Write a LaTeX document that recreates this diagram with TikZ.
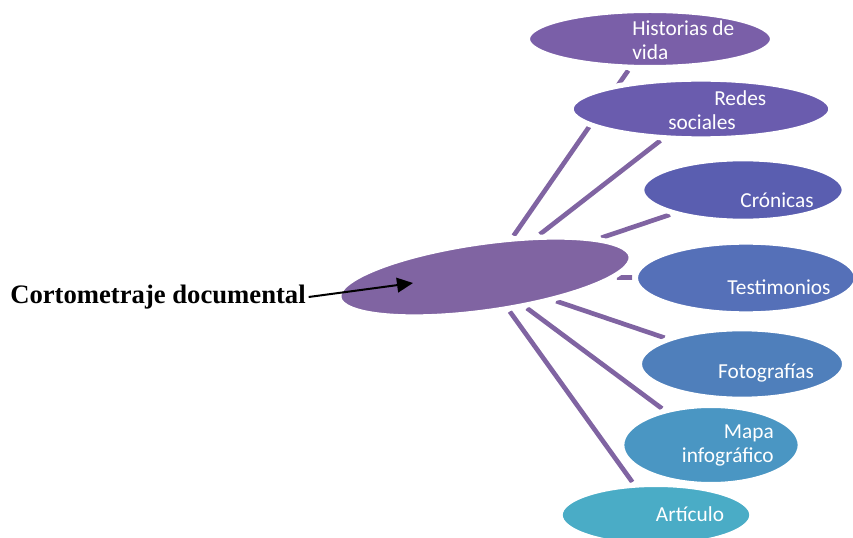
\documentclass[tikz,border=0pt]{standalone}
\usepackage{fontspec}
\setmainfont{Liberation Serif}
\newfontfamily\calibri{Carlito}
\usetikzlibrary{shapes.geometric,arrows.meta,backgrounds}

\definecolor{violeta}{RGB}{128,100,162}
\definecolor{satA}{RGB}{122,95,168}
\definecolor{satB}{RGB}{106,92,174}
\definecolor{satC}{RGB}{90,94,176}
\definecolor{satD}{RGB}{85,112,184}
\definecolor{satE}{RGB}{79,127,187}
\definecolor{satF}{RGB}{74,150,195}
\definecolor{satG}{RGB}{74,172,198}

\tikzset{
  burbuja/.style={ellipse, draw=white, line width=4pt, inner sep=0pt},
  rotulo/.style={font=\calibri\fontsize{16}{18}\selectfont, text=white, inner sep=0pt},
  radio/.style={draw=violeta, line width=3.5pt, shorten <=0.5pt, shorten >=0.5pt}
}

\begin{document}
\begin{tikzpicture}[x=0.75pt,y=0.75pt,yscale=-1,xscale=1]
\useasboundingbox (0,0) rectangle (853,538);

%Central ellipse
\node [burbuja, fill=violeta, minimum width=221.5pt, minimum height=52pt, rotate=8] (centro) at (485,277) {};

%Satellite ellipses
\node [burbuja, fill=satA, minimum width=184pt, minimum height=43pt] (historias) at (650,39) {};
\node [burbuja, fill=satB, minimum width=195pt, minimum height=45pt] (redes) at (701,109) {};
\node [burbuja, fill=satC, minimum width=152pt, minimum height=47pt] (cronicas) at (743,190) {};
\node [burbuja, fill=satD, minimum width=166pt, minimum height=54pt] (testimonios) at (746,278) {};
\node [burbuja, fill=satE, minimum width=154pt, minimum height=53pt] (fotografias) at (742,364) {};
\node [burbuja, fill=satF, minimum width=134pt, minimum height=59.5pt] (mapa) at (711,445) {};
\node [burbuja, fill=satG, minimum width=144pt, minimum height=46pt] (articulo) at (656,515) {};

%Spokes
\begin{scope}[on background layer]
\foreach \s in {historias,redes,cronicas,testimonios,fotografias,mapa,articulo}
  \draw [radio] (centro) -- (\s);
\end{scope}

% Text Node
\node [rotulo, anchor=west, align=left] (historiasT) at ([shift={(-18,1)}]historias.center) {Historias de\\vida};
% Text Node
\node [rotulo, anchor=west, align=left] (redesT) at ([shift={(-33,1)}]redes.center) {\hspace*{34.5pt}Redes\\sociales};
% Text Node
\node [rotulo] (cronicasT) at ([shift={(34,10)}]cronicas.center) {Crónicas};
% Text Node
\node [rotulo] (testimoniosT) at ([shift={(33,9)}]testimonios.center) {Testimonios};
% Text Node
\node [rotulo] (fotografiasT) at ([shift={(24,9)}]fotografias.center) {Fotografías};
% Text Node
\node [rotulo, anchor=east, align=right] (mapaT) at ([shift={(63,0)}]mapa.center) {Mapa\\infográfico};
% Text Node
\node [rotulo] (articuloT) at ([shift={(34,-1)}]articulo.center) {Artículo};

% Text Node
\node [anchor=west, inner sep=0pt, font=\bfseries\fontsize{20}{24}\selectfont] (cortometraje) at (10,297) {Cortometraje documental};
\coordinate (punta) at (413,283);
\draw [line width=1.5pt, -{Triangle[length=12pt,width=11pt]}] ([xshift=2pt]cortometraje.east) -- (punta);

\end{tikzpicture}
\end{document}
